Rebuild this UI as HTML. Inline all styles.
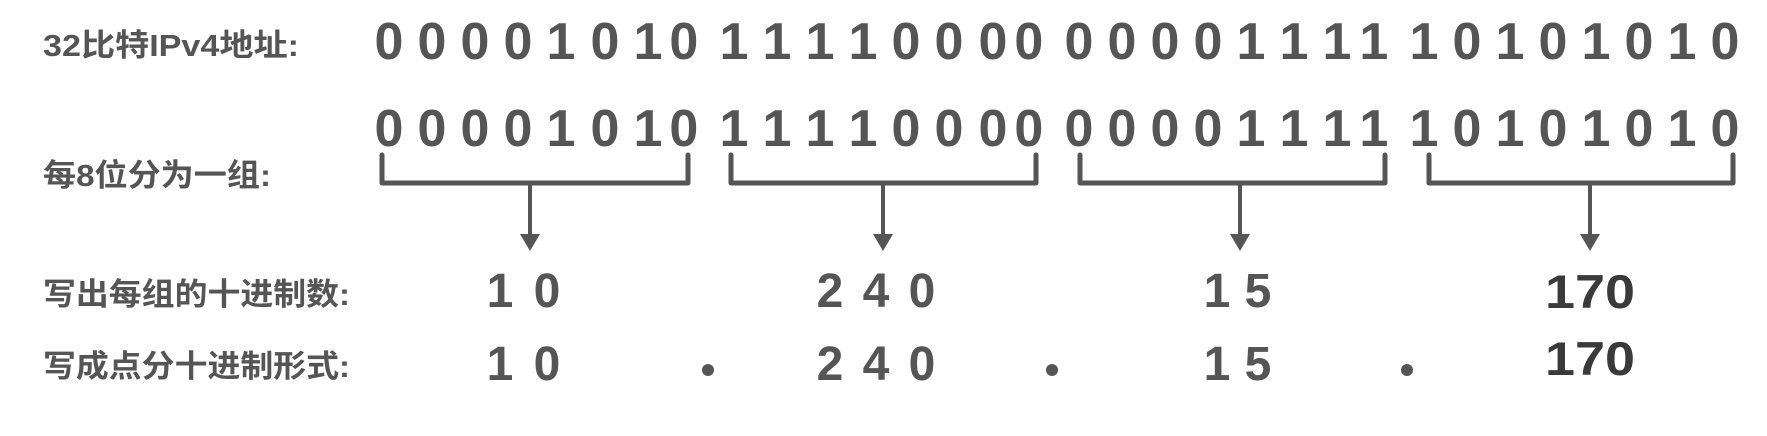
<!DOCTYPE html>
<html><head><meta charset="utf-8"><style>
html,body{margin:0;padding:0;background:#fff;}
svg{display:block;}
text{font-family:"Liberation Sans","Noto Sans CJK SC",sans-serif;font-weight:bold;}
</style></head><body>
<svg width="1767" height="436" viewBox="0 0 1767 436" xmlns="http://www.w3.org/2000/svg">
<g fill="#555" font-size="31">
<text x="43" y="56" textLength="256" lengthAdjust="spacingAndGlyphs">32比特IPv4地址:</text>
<text x="43" y="186" textLength="228" lengthAdjust="spacingAndGlyphs">每8位分为一组:</text>
<text x="43" y="305" textLength="307" lengthAdjust="spacingAndGlyphs">写出每组的十进制数:</text>
<text x="43" y="377" textLength="307" lengthAdjust="spacingAndGlyphs">写成点分十进制形式:</text>
</g>
<g fill="#555" font-size="52" text-anchor="middle">
<text y="59">
<tspan x="389">0</tspan><tspan x="432">0</tspan><tspan x="475">0</tspan><tspan x="518">0</tspan><tspan x="561">1</tspan><tspan x="605">0</tspan><tspan x="648">1</tspan><tspan x="691">0</tspan>
<tspan x="734">1</tspan><tspan x="777">1</tspan><tspan x="820">1</tspan><tspan x="863">1</tspan><tspan x="906">0</tspan><tspan x="949">0</tspan><tspan x="993">0</tspan><tspan x="1036">0</tspan>
<tspan x="1079">0</tspan><tspan x="1122">0</tspan><tspan x="1165">0</tspan><tspan x="1208">0</tspan><tspan x="1251">1</tspan><tspan x="1294">1</tspan><tspan x="1337">1</tspan><tspan x="1381">1</tspan>
<tspan x="1424">1</tspan><tspan x="1467">0</tspan><tspan x="1510">1</tspan><tspan x="1553">0</tspan><tspan x="1596">1</tspan><tspan x="1639">0</tspan><tspan x="1682">1</tspan><tspan x="1725">0</tspan>
</text>
<text y="146">
<tspan x="389">0</tspan><tspan x="432">0</tspan><tspan x="475">0</tspan><tspan x="518">0</tspan><tspan x="561">1</tspan><tspan x="605">0</tspan><tspan x="648">1</tspan><tspan x="691">0</tspan>
<tspan x="734">1</tspan><tspan x="777">1</tspan><tspan x="820">1</tspan><tspan x="863">1</tspan><tspan x="906">0</tspan><tspan x="949">0</tspan><tspan x="993">0</tspan><tspan x="1036">0</tspan>
<tspan x="1079">0</tspan><tspan x="1122">0</tspan><tspan x="1165">0</tspan><tspan x="1208">0</tspan><tspan x="1251">1</tspan><tspan x="1294">1</tspan><tspan x="1337">1</tspan><tspan x="1381">1</tspan>
<tspan x="1424">1</tspan><tspan x="1467">0</tspan><tspan x="1510">1</tspan><tspan x="1553">0</tspan><tspan x="1596">1</tspan><tspan x="1639">0</tspan><tspan x="1682">1</tspan><tspan x="1725">0</tspan>
</text>
</g>
<g fill="#555" font-size="48" text-anchor="middle">
<text y="307"><tspan x="500">1</tspan><tspan x="547">0</tspan></text>
<text y="307"><tspan x="830">2</tspan><tspan x="876">4</tspan><tspan x="922">0</tspan></text>
<text y="307"><tspan x="1217">1</tspan><tspan x="1258">5</tspan></text>
<text y="380"><tspan x="500">1</tspan><tspan x="547">0</tspan></text>
<text y="380"><tspan x="830">2</tspan><tspan x="876">4</tspan><tspan x="922">0</tspan></text>
<text y="380"><tspan x="1217">1</tspan><tspan x="1258">5</tspan></text>
</g>
<g fill="#3a3a3a" font-size="47">
<text x="1545" y="308" textLength="90" lengthAdjust="spacingAndGlyphs">170</text>
<text x="1545" y="375" textLength="90" lengthAdjust="spacingAndGlyphs">170</text>
</g>
<g fill="#555">
<circle cx="708" cy="370" r="6"/><circle cx="1052" cy="370" r="6"/><circle cx="1407" cy="370" r="6"/>
</g>
<g stroke="#555" stroke-width="5" fill="none" stroke-linejoin="round" stroke-linecap="round">
<path d="M382 155 V183 H688 V155"/>
<path d="M731 155 V183 H1036 V155"/>
<path d="M1080 155 V183 H1385 V155"/>
<path d="M1429 155 V183 H1733 V155"/>
</g>
<g stroke="#555" stroke-width="4">
<line x1="530" y1="183" x2="530" y2="238"/>
<line x1="883" y1="183" x2="883" y2="238"/>
<line x1="1240" y1="183" x2="1240" y2="238"/>
<line x1="1590" y1="183" x2="1590" y2="238"/>
</g>
<g fill="#555">
<polygon points="520,234 540,234 530,251"/>
<polygon points="873,234 893,234 883,251"/>
<polygon points="1230,234 1250,234 1240,251"/>
<polygon points="1580,234 1600,234 1590,251"/>
</g>
</svg>
</body></html>
